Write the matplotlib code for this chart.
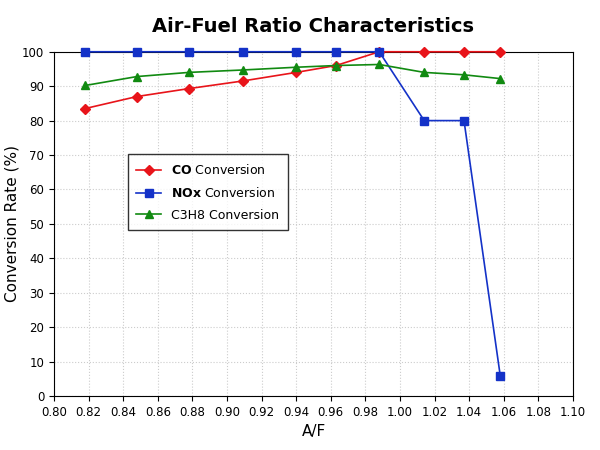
import matplotlib
matplotlib.use("Agg")
import matplotlib.pyplot as plt

af = [0.818, 0.848, 0.878, 0.909, 0.940, 0.963, 0.988, 1.014, 1.037, 1.058]
co = [83.5, 87.0, 89.3, 91.5, 94.0, 96.0, 100, 100, 100, 100]
nox = [100, 100, 100, 100, 100, 100, 100, 80, 80, 5.7]
c3h8 = [90.2, 92.8, 94.0, 94.7, 95.5, 96.0, 96.3, 94.0, 93.3, 92.2]

fig, ax = plt.subplots(figsize=(6, 4.5), dpi=100)
fig.subplots_adjust(left=0.09, right=0.955, top=0.885, bottom=0.12)

ax.plot(af, co, color="#e8141a", marker="D", markersize=5, lw=1.2, clip_on=False, zorder=3,
        label="$\\bf{CO}$ Conversion")
ax.plot(af, nox, color="#1432c8", marker="s", markersize=6, lw=1.2, clip_on=False, zorder=3,
        label="$\\bf{NOx}$ Conversion")
ax.plot(af, c3h8, color="#118a11", marker="^", markersize=6, lw=1.2, clip_on=False, zorder=3,
        label="C3H8 Conversion")

ax.set_xlim(0.80, 1.10)
ax.set_ylim(0, 100)
ax.set_xticks([0.80 + 0.02 * i for i in range(16)])
ax.set_yticks(range(0, 101, 10))
ax.tick_params(labelsize=8.5)
ax.grid(True, ls=":", color="#cccccc", lw=0.8)
ax.set_xlabel("A/F", fontsize=11)
ax.set_ylabel("Conversion Rate (%)", fontsize=11, labelpad=2)
ax.set_title("Air-Fuel Ratio Characteristics", fontsize=14, fontweight="bold", pad=14)
ax.legend(loc="upper left", bbox_to_anchor=(0.13, 0.72), fancybox=False,
          edgecolor="black", fontsize=9, borderpad=0.7, labelspacing=0.7)

fig.savefig("out.png")
